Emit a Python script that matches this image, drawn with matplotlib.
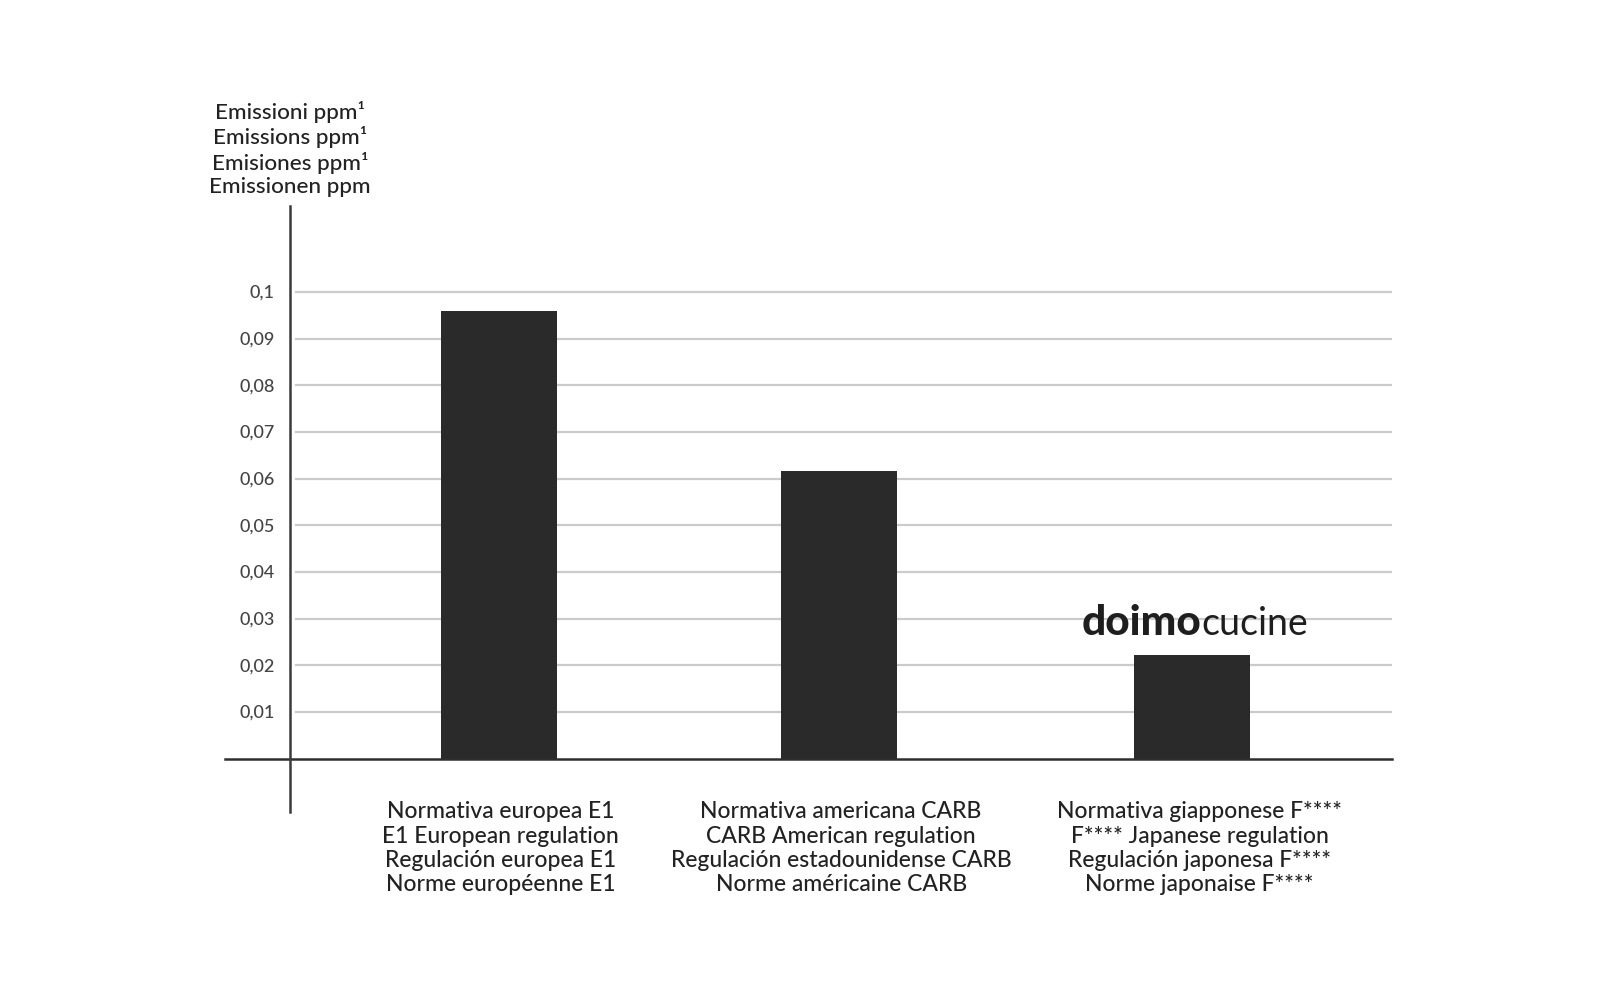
import matplotlib
matplotlib.use("Agg")
import matplotlib.pyplot as plt

plt.rcParams["font.family"] = ["Lato", "DejaVu Sans"]

# data
categories = [
  "Normativa europea E1\nE1 European regulation\nRegulación europea E1\nNorme européenne E1",
  "Normativa americana CARB\nCARB American regulation\nRegulación estadounidense CARB\nNorme américaine CARB",
  "Normativa giapponese F****\nF**** Japanese regulation\nRegulación japonesa F****\nNorme japonaise F****",
]
values = [0.0959, 0.0616, 0.0222]
ticks = [0.01, 0.02, 0.03, 0.04, 0.05, 0.06, 0.07, 0.08, 0.09, 0.1]
tick_labels = ["0,01", "0,02", "0,03", "0,04", "0,05", "0,06", "0,07", "0,08", "0,09", "0,1"]
y_title = "Emissioni ppm¹\nEmissions ppm¹\nEmisiones ppm¹\nEmissionen ppm"

# layout
xpos = [0, 1, 2.037]
label_xpos = [0.005, 1.006, 2.06]
bar_w = 0.341
x_left, x_right = -0.806, 2.626
x_axis = -0.615
x_grid0 = -0.597
ymax = 0.1184
ybelow = -0.01147

fig = plt.figure(figsize=(16, 9.95), dpi=100)
ax = fig.add_axes([225 / 1600, 1 - 759.5 / 995, (1392 - 225) / 1600, (759.5 - 207) / 995])
ax.set_xlim(x_left, x_right)
ax.set_ylim(0, ymax)
ax.axis("off")

for t, lab in zip(ticks, tick_labels):
  ax.plot([x_grid0, x_right], [t, t], color="#cbcbcb", lw=1.6, zorder=1)
  ax.text(x_axis - 0.044, t, lab, ha="right", va="center", fontsize=13, color="#444444",
          fontweight="medium")

ax.bar(xpos, values, width=bar_w, color="#2a2a2a", zorder=3)

# axes lines
ax.plot([x_left, x_right], [0, 0], color="#2e2e2e", lw=1.8, zorder=4, clip_on=False)
ax.plot([x_axis, x_axis], [ybelow, ymax], color="#3a3a3a", lw=1.8, zorder=4, clip_on=False)

for x, lab in zip(label_xpos, categories):
  ax.text(x, -0.009, lab, ha="center", va="top", fontsize=16.5, color="#222222",
          fontweight="medium", linespacing=1.18)

ax.text(x_axis, 0.1205, y_title, ha="center", va="bottom", fontsize=16.2, color="#222222",
        fontweight="medium", linespacing=1.2)

# logo above the third bar
ax.text(2.065, 0.0267, "doimo", ha="right", va="baseline", fontsize=30.5, fontweight="black",
        color="#1e1e1e")
ax.text(2.065, 0.0267, "cucine", ha="left", va="baseline", fontsize=27, fontweight="normal",
        color="#1e1e1e")

fig.savefig("out.png", dpi=100, facecolor="white")
